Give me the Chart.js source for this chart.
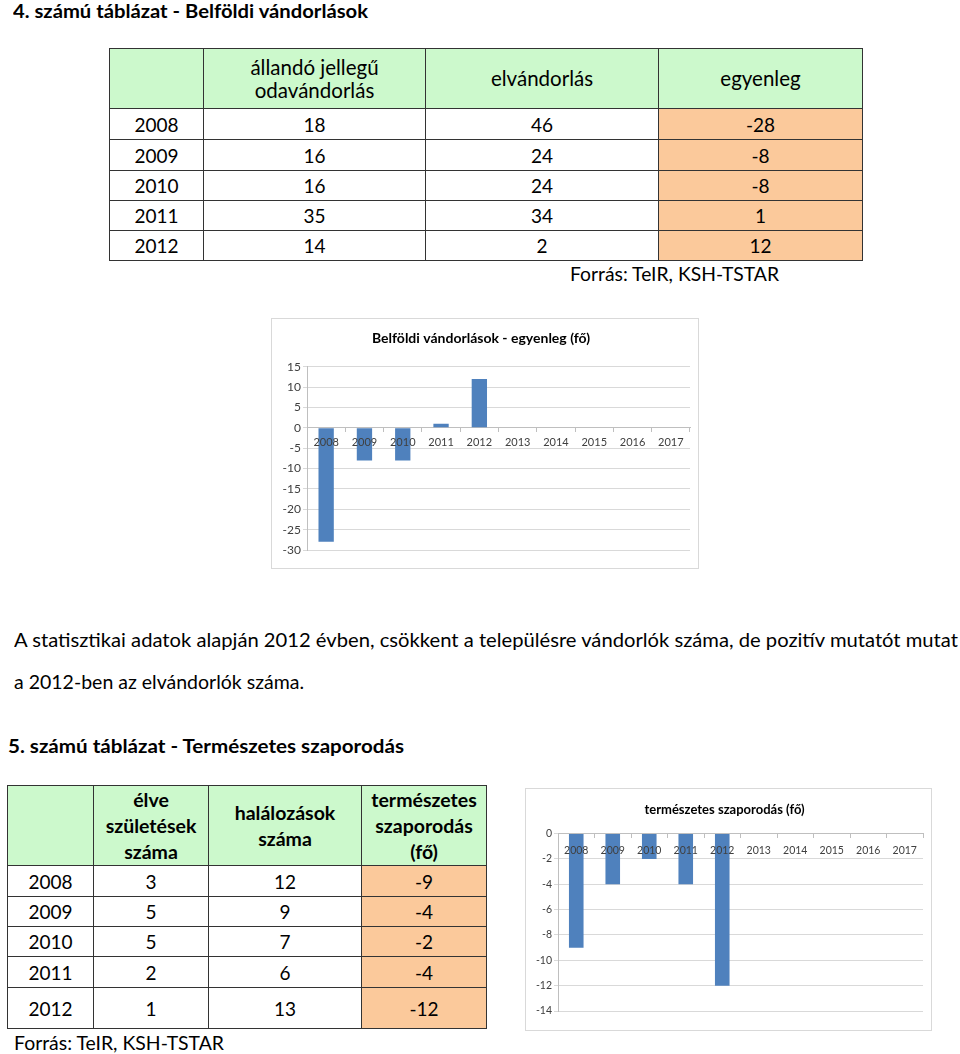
<!DOCTYPE html>
<html><head><meta charset="utf-8">
<script src="https://cdn.jsdelivr.net/npm/chart.js@4"></script>
<style>
html,body{margin:0;padding:0;background:#fff;}
body{width:960px;height:1054px;position:relative;overflow:hidden;font-family:Lato,"Open Sans",sans-serif;color:#000;}
.t{position:absolute;white-space:nowrap;transform-origin:0 50%;}
table{position:absolute;border-collapse:collapse;table-layout:fixed;font-family:Lato,sans-serif;}
td{border:1px solid #333;text-align:center;vertical-align:middle;padding:0;font-size:19px;}
td.h{background:#ccf9cc;}
td.o{background:#fbc99b;}
.box{position:absolute;border:1px solid #d9d9d9;box-sizing:border-box;background:#fff;}
canvas{position:absolute;}
</style></head>
<body>
<script>
// ---- data ----
const tableYears = ['2008','2009','2010','2011','2012'];
const odavandorlas = [18,16,16,35,14];
const elvandorlas = [46,24,24,34,2];
const egyenleg = [-28,-8,-8,1,12];
const chartYears = ['2008','2009','2010','2011','2012','2013','2014','2015','2016','2017'];
const szuletesek = [3,5,5,2,1];
const halalozasok = [12,9,7,6,13];
const szaporodas = [-9,-4,-2,-4,-12];
const table1Head = ['', 'állandó jellegű<br>odavándorlás', 'elvándorlás', 'egyenleg'];
const table2Head = ['', 'élve<br>születések<br>száma', 'halálozások<br>száma', 'természetes<br>szaporodás<br>(fő)'];
const yAxis1 = [-30, 15, 5];
const yAxis2 = [-14, 0, 2];
const chart1Title = 'Belföldi vándorlások - egyenleg (fő)';
const chart2Title = 'természetes szaporodás (fő)';
</script>

<div class="t" id="title1" style="left:13px;top:0px;font-size:18px;line-height:22px;font-weight:bold;">4. számú táblázat - Belföldi vándorlások</div>
<div class="t" id="src1" style="left:570px;top:262px;font-size:19px;line-height:24px;">Forrás: TeIR, KSH-TSTAR</div>
<div class="t" id="para1" style="left:14px;top:628px;font-size:19px;line-height:24px;">A statisztikai adatok alapján 2012 évben, csökkent a településre vándorlók száma, de pozitív mutatót mutat</div>
<div class="t" id="para2" style="left:14px;top:670px;font-size:19px;line-height:24px;">a 2012-ben az elvándorlók száma.</div>
<div class="t" id="title2" style="left:8px;top:735px;font-size:18px;line-height:22px;font-weight:bold;">5. számú táblázat - Természetes szaporodás</div>
<div class="t" id="src2" style="left:14px;top:1031px;font-size:19px;line-height:24px;">Forrás: TeIR, KSH-TSTAR</div>

<table id="tab1" style="left:109px;top:48px;width:753px;"></table>
<table id="tab2" style="left:7px;top:785px;width:479px;"></table>

<div class="box" style="left:271px;top:318px;width:428px;height:251px;"></div>
<canvas id="c1" width="426" height="249" style="left:272px;top:319px;"></canvas>
<div class="box" style="left:525px;top:788px;width:407px;height:243px;"></div>
<canvas id="c2" width="405" height="241" style="left:526px;top:789px;"></canvas>

<script>
function buildTable(id, colW, head, headLH, headW, headFS, rowH, rows, lastOrange){
  const t = document.getElementById(id);
  let html = '<colgroup>' + colW.map(w=>'<col style="width:'+w+'px">').join('') + '</colgroup>';
  html += '<tr style="height:'+rowH[0]+'px">' + head.map(h=>'<td class="h" style="line-height:'+headLH+'px;font-weight:'+headW+';font-size:'+headFS+'px">'+h+'</td>').join('') + '</tr>';
  rows.forEach((r,i)=>{
    html += '<tr style="height:'+rowH[i+1]+'px">' + r.map((c,j)=>'<td'+(lastOrange && j===r.length-1?' class="o"':'')+'>'+c+'</td>').join('') + '</tr>';
  });
  t.innerHTML = html;
}
buildTable('tab1',[94,222,233,204],table1Head,23,'normal',20.5,[60,31,31,30,30,30],
  tableYears.map((y,i)=>[y,odavandorlas[i],elvandorlas[i],egyenleg[i]]),true);
buildTable('tab2',[86,115,153,125],table2Head,26,'bold',19.5,[80,31,30,30,31,41],
  tableYears.map((y,i)=>[y,szuletesek[i],halalozasok[i],szaporodas[i]]),true);

function fit(id,w){const el=document.getElementById(id);const n=el.getBoundingClientRect().width;el.style.transform='scaleX('+(w/n)+')';}
fit('title1',355); fit('src1',209); fit('para1',944); fit('para2',290); fit('title2',396); fit('src2',210);

function makeChart(id, title, values, yr, o){
  const data = chartYears.map((y,i)=> i<values.length ? values[i] : null);
  return new Chart(document.getElementById(id),{
    type:'bar',
    data:{labels:chartYears,datasets:[{data:data,backgroundColor:'#4f81bd',borderWidth:0,barPercentage:0.4,categoryPercentage:1}]},
    options:{
      responsive:false,animation:false,devicePixelRatio:1,
      layout:{padding:{top:0,left:0,right:o.right,bottom:o.bottom}},
      plugins:{legend:{display:false},tooltip:{enabled:false},
        title:{display:true,text:title,color:'#000',font:{family:'Lato',size:o.tfs,weight:'bold'},padding:{top:o.tTop,bottom:o.tBot}}},
      scales:{
        x:{position:{y:0},offset:true,
          grid:{offset:true,drawOnChartArea:false,drawTicks:true,tickLength:4,color:'#bfbfbf'},
          border:{color:'#bfbfbf'},
          ticks:{z:1,color:'#404040',font:{family:'Lato',size:o.fs},padding:o.xpad,maxRotation:0,autoSkip:false}},
        y:{min:yr[0],max:yr[1],
          afterFit:s=>{s.width=o.yw;},
          grid:{color:'#d9d9d9',drawTicks:true,tickLength:4},
          border:{color:'#bfbfbf'},
          ticks:{stepSize:yr[2],color:'#404040',font:{family:'Lato',size:o.yfs},padding:2}}
      }
    }
  });
}
makeChart('c1',chart1Title,egyenleg,yAxis1,{right:8,bottom:18,tTop:11,tBot:20,tfs:14,yw:35,fs:11,yfs:12,xpad:4});
makeChart('c2',chart2Title,szaporodas,yAxis2,{right:8,bottom:19,tTop:13,tBot:16,tfs:13,yw:32,fs:10.5,yfs:10.5,xpad:7});
</script>
</body></html>
